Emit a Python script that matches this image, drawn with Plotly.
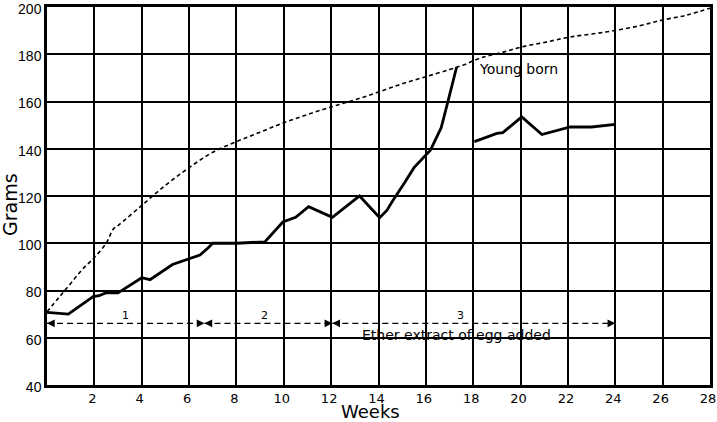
import plotly.graph_objects as go

# ---- data ----
ctrl_weeks = [0, 0.5, 1, 1.5, 2, 2.5, 2.8, 3, 4, 5, 6, 7, 8, 9, 10, 11, 12, 13, 14, 15, 16, 17, 17.6, 18.3, 19.3, 20, 21, 22.1, 23.6, 25, 26, 27, 28]
ctrl_grams = [71, 77, 83, 89, 94, 100, 106, 107.5, 116, 124.5, 132, 138.5, 143, 147, 151, 154.5, 157.7, 160.7, 164, 167.5, 170.5, 173.5, 175.5, 178.4, 181, 183, 185, 187.3, 189.4, 192, 194.5, 196.5, 199.5]

exp1_weeks = [0, 0.9, 1.95, 2.2, 2.5, 3.0, 4.0, 4.35, 5.3, 6.04, 6.46, 6.8, 7.0, 8.0, 9.2, 9.96, 10.5, 11.05, 12.05, 13.2, 14.05, 14.36, 14.6, 15.1, 15.5, 16.2, 16.65, 16.95, 17.3]
exp1_grams = [70.7, 70, 77.4, 77.8, 79.1, 79, 85.4, 84.6, 91, 93.5, 95, 98, 100, 100, 100.6, 109, 111, 115.5, 111, 120, 110.8, 114, 118, 125.6, 132, 139.5, 149, 160.7, 174.6]

exp2_weeks = [18.05, 19.0, 19.25, 20.05, 20.9, 22.1, 23.0, 24.0]
exp2_grams = [143, 146.5, 146.8, 153.5, 146, 149.3, 149.2, 150.3]

period_starts = [0, 6.65, 12.05]
period_ends = [6.65, 12.05, 24.0]
period_labels = ["1", "2", "3"]
period_label_x = [3.3, 9.2, 17.45]
period_y = 66.1

x_ticks = list(range(2, 29, 2))
y_ticks = list(range(40, 201, 20))

# plot-area geometry in pixels (for placing the axis titles)
L, R, T, B = 47, 7, 7, 37
W, H = 717, 422
PW, PH = W - L - R, H - T - B

fig = go.Figure()

fig.add_trace(go.Scatter(x=ctrl_weeks, y=ctrl_grams, mode="lines",
                         line=dict(color="black", width=1.6, dash="4px,3px"),
                         line_shape="spline", hoverinfo="skip", showlegend=False))
fig.add_trace(go.Scatter(x=exp1_weeks, y=exp1_grams, mode="lines",
                         line=dict(color="black", width=2.8), showlegend=False))
fig.add_trace(go.Scatter(x=exp2_weeks, y=exp2_grams, mode="lines",
                         line=dict(color="black", width=2.8), showlegend=False))

annotations = []
for s, e, lab, lx in zip(period_starts, period_ends, period_labels, period_label_x):
    fig.add_trace(go.Scatter(x=[s, e], y=[period_y, period_y], mode="lines",
                             line=dict(color="black", width=1.4, dash="6px,4px"),
                             showlegend=False, hoverinfo="skip"))
    annotations.append(dict(x=s, y=period_y, ax=s + 0.35, ay=period_y, xref="x", yref="y",
                            axref="x", ayref="y", showarrow=True, arrowhead=2, arrowsize=1.1,
                            arrowwidth=1.4, arrowcolor="black", text=""))
    annotations.append(dict(x=e, y=period_y, ax=e - 0.35, ay=period_y, xref="x", yref="y",
                            axref="x", ayref="y", showarrow=True, arrowhead=2, arrowsize=1.1,
                            arrowwidth=1.4, arrowcolor="black", text=""))
    annotations.append(dict(x=lx, y=period_y, xref="x", yref="y", text=lab, showarrow=False,
                            yanchor="bottom", yshift=-1, font=dict(size=11, color="black")))

annotations.append(dict(x=17.3, y=60, xref="x", yref="y", text="Ether extract of egg added",
                        showarrow=False, yanchor="bottom", yshift=-7,
                        font=dict(size=14, color="black")))
annotations.append(dict(x=18.15, y=173.8, xref="x", yref="y", text="Young born", xanchor="left",
                        showarrow=False, font=dict(size=14, color="black")))
annotations.append(dict(x=(370 - L) / PW, y=(H - B - 411) / PH, xref="paper", yref="paper",
                        xanchor="center", yanchor="middle", borderpad=0,
                        text="Weeks", showarrow=False, font=dict(size=18, color="black")))
annotations.append(dict(x=(10 - L) / PW, y=(H - B - 205) / PH, xref="paper", yref="paper",
                        xanchor="center", yanchor="middle",
                        text="Grams", textangle=-90, showarrow=False,
                        font=dict(size=19, color="black")))

fig.update_layout(
    width=W, height=H,
    margin=dict(l=L, r=R, t=T, b=B),
    paper_bgcolor="white", plot_bgcolor="white",
    font=dict(family="DejaVu Sans", color="black"),
    annotations=annotations,
    xaxis=dict(range=[0, 28], tickvals=x_ticks, ticktext=[str(v) for v in x_ticks],
               showgrid=True, gridcolor="black", gridwidth=1.5, zeroline=False,
               showline=True, linecolor="black", linewidth=2.5, mirror=True,
               ticks="", tickfont=dict(size=13, family="DejaVu Sans"), automargin=False,
               ticklabeloverflow="allow", ticklabelshift=-2),
    yaxis=dict(range=[40, 200], tickvals=y_ticks, ticktext=[str(v) for v in y_ticks],
               showgrid=True, gridcolor="black", gridwidth=1.5, zeroline=False,
               showline=True, linecolor="black", linewidth=2.5, mirror=True,
               ticks="", tickfont=dict(size=14, family="Liberation Sans"), automargin=False,
               ticklabeloverflow="allow", ticklabelshift=2, ticklabelstandoff=0),
)

fig.write_html("out.html")
